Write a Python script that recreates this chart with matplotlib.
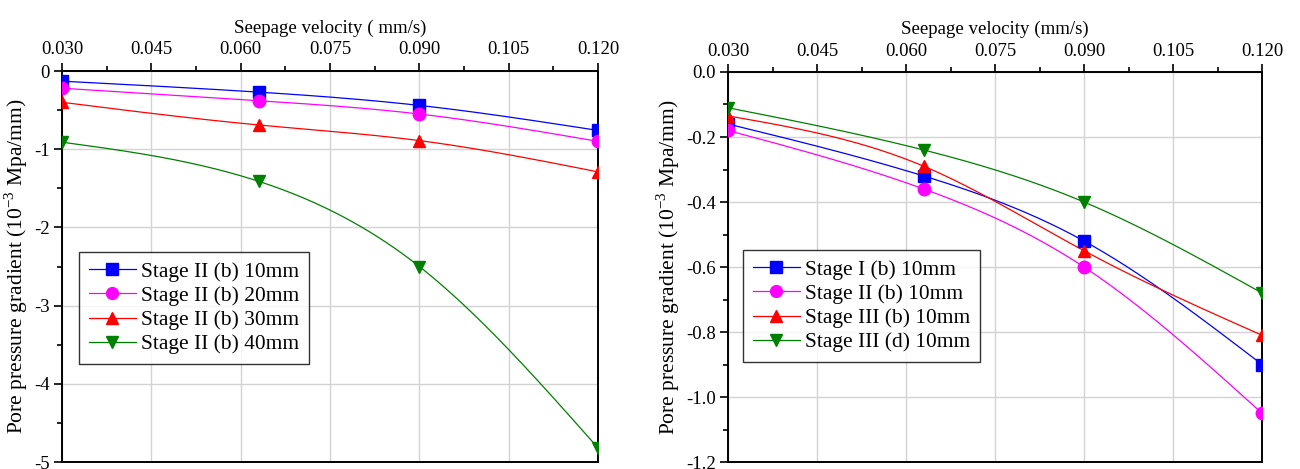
import numpy as np
import matplotlib
matplotlib.use("Agg")
import matplotlib.pyplot as plt
from matplotlib.ticker import MultipleLocator, FormatStrFormatter

plt.rcParams['font.family'] = ['Liberation Serif', 'DejaVu Serif']
plt.rcParams['mathtext.fontset'] = 'custom'
plt.rcParams['mathtext.rm'] = 'Liberation Serif'

# ---- data ----
velocity = [0.030, 0.063, 0.090, 0.120]

left_labels = ["Stage II (b) 10mm", "Stage II (b) 20mm", "Stage II (b) 30mm", "Stage II (b) 40mm"]
left_10mm = [-0.13, -0.27, -0.44, -0.76]
left_20mm = [-0.22, -0.38, -0.55, -0.90]
left_30mm = [-0.40, -0.69, -0.89, -1.29]
left_40mm = [-0.91, -1.41, -2.50, -4.82]

right_labels = ["Stage I (b) 10mm", "Stage II (b) 10mm", "Stage III (b) 10mm", "Stage III (d) 10mm"]
right_I_b = [-0.16, -0.32, -0.52, -0.90]
right_II_b = [-0.18, -0.36, -0.60, -1.05]
right_III_b = [-0.135, -0.29, -0.55, -0.81]
right_III_d = [-0.11, -0.24, -0.40, -0.68]

colors = ["#0000ff", "#ff00ff", "#ff0000", "#008000"]
markers = ["s", "o", "^", "v"]


def natural_spline(x, y, n=200):
    x = np.asarray(x, float)
    y = np.asarray(y, float)
    m = len(x)
    h = np.diff(x)
    A = np.zeros((m, m))
    b = np.zeros(m)
    A[0, 0] = 1
    A[-1, -1] = 1
    for i in range(1, m - 1):
        A[i, i - 1] = h[i - 1]
        A[i, i] = 2 * (h[i - 1] + h[i])
        A[i, i + 1] = h[i]
        b[i] = 6 * ((y[i + 1] - y[i]) / h[i] - (y[i] - y[i - 1]) / h[i - 1])
    M = np.linalg.solve(A, b)
    xs = np.linspace(x[0], x[-1], n)
    ys = np.empty_like(xs)
    for k, xv in enumerate(xs):
        i = min(np.searchsorted(x, xv, side='right') - 1, m - 2)
        t1 = x[i + 1] - xv
        t0 = xv - x[i]
        ys[k] = (M[i] * t1 ** 3 + M[i + 1] * t0 ** 3) / (6 * h[i]) \
            + (y[i] / h[i] - M[i] * h[i] / 6) * t1 \
            + (y[i + 1] / h[i] - M[i + 1] * h[i] / 6) * t0
    return xs, ys


fig = plt.figure(figsize=(13, 4.69), dpi=100)
ax1 = fig.add_axes([62 / 1300, 1 - 462 / 469, (598 - 62) / 1300, (462 - 71) / 469])
ax2 = fig.add_axes([728 / 1300, 1 - 462 / 469, (1262 - 728) / 1300, (462 - 72) / 469])

fs_tick = 13.5
fs_title = 13.6
fs_ylab = 15.5
fs_leg = 15.4


def style(ax, ylim, ymaj, fmt, title):
    ax.set_xlim(0.030, 0.120)
    ax.set_ylim(*ylim)
    ax.xaxis.tick_top()
    ax.xaxis.set_label_position('top')
    ax.xaxis.set_major_locator(MultipleLocator(0.015))
    ax.xaxis.set_minor_locator(MultipleLocator(0.0075))
    ax.xaxis.set_major_formatter(FormatStrFormatter('%.3f'))
    ax.yaxis.set_major_locator(MultipleLocator(ymaj))
    ax.yaxis.set_minor_locator(MultipleLocator(ymaj / 2))
    ax.yaxis.set_major_formatter(FormatStrFormatter(fmt))
    ax.tick_params(which='major', direction='out', length=6, width=1.2, labelsize=fs_tick, pad=3)
    ax.tick_params(which='minor', direction='out', length=3.5, width=1.2)
    ax.tick_params(axis='x', which='both', top=True, bottom=False)
    ax.tick_params(axis='y', which='both', left=True, right=False)
    for sp in ax.spines.values():
        sp.set_linewidth(1.4)
        sp.set_color('black')
    ax.grid(True, which='major', color='#d3d3d3', linewidth=1.0)
    ax.set_axisbelow(True)
    ax.set_xlabel(title, fontsize=fs_title, labelpad=6)
    ax.set_ylabel(r"Pore pressure gradient (10$^{-3}$ Mpa/mm)", fontsize=fs_ylab, labelpad=3)


def plot_set(ax, series, labels):
    for ys, lab, c, mk in zip(series, labels, colors, markers):
        xs_s, ys_s = natural_spline(velocity, ys)
        ax.plot(xs_s, ys_s, color=c, linewidth=0.9, zorder=3)
        ax.plot(velocity, ys, linestyle='none', marker=mk, color=c,
                markersize=9, zorder=4)
        ax.plot([], [], color=c, linewidth=0.9, marker=mk, markersize=8.5, label=lab)


plot_set(ax1, [left_10mm, left_20mm, left_30mm, left_40mm], left_labels)
style(ax1, (-5, 0), 1, '%d', "Seepage velocity ( mm/s)")
ax1.yaxis.set_major_formatter(plt.FuncFormatter(lambda v, p: '0' if abs(v) < 1e-9 else '%d' % v))

plot_set(ax2, [right_I_b, right_II_b, right_III_b, right_III_d], right_labels)
style(ax2, (-1.2, 0), 0.2, '%.1f', "Seepage velocity (mm/s)")

for ax, anchor in [(ax1, (79, 364)), (ax2, (743, 362))]:
    handles, labs = ax.get_legend_handles_labels()
    bx, by = ax.transAxes.inverted().transform(fig.transFigure.transform((anchor[0] / 1300, 1 - anchor[1] / 469)))
    leg = ax.legend(handles, labs, loc='lower left', bbox_to_anchor=(bx, by),
                    fontsize=fs_leg, frameon=True, fancybox=False, edgecolor='black',
                    handlelength=2.2, handletextpad=0.25, borderpad=0.45,
                    labelspacing=0.2, borderaxespad=0, numpoints=1)
    leg.get_frame().set_linewidth(1.0)

fig.savefig("out.png", dpi=100)
